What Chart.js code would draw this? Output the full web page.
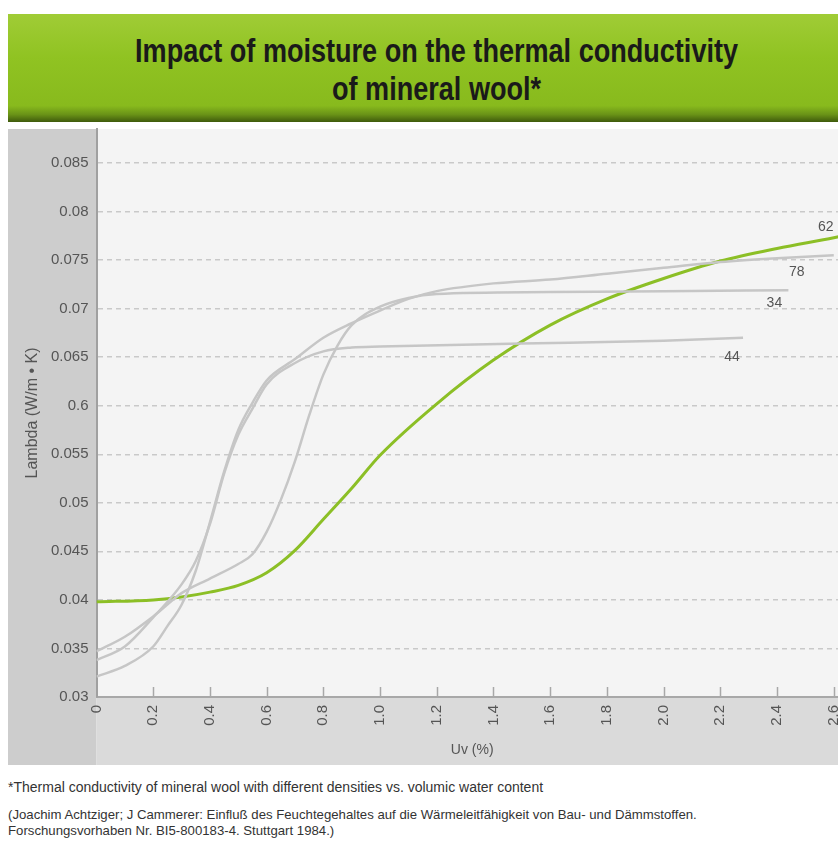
<!DOCTYPE html>
<html>
<head>
<meta charset="utf-8">
<script src="https://cdn.jsdelivr.net/npm/chart.js@4"></script>
<style>
html, body { margin:0; padding:0; background:#fff; width:838px; height:850px; overflow:hidden; }
#banner {
  position:absolute; left:8px; top:14px; width:840px; height:108px;
  background:linear-gradient(to bottom, #a0cc36 0%, #90c322 40%, #88ba1d 85%, #6a9317 93%, #3f5a0c 100%);
  font-family:"Liberation Sans",Arial,sans-serif; font-weight:bold; font-size:33px; line-height:38px; color:#1a1a1a;
}
#banner div { position:absolute; left:0; width:860px; top:18px; text-align:center; transform:scaleX(0.82); transform-origin:422px 0; }
#wrap { position:absolute; left:8px; top:112px; width:852px; height:653px; }
#notes {
  position:absolute; left:8px; top:779px; font-family:"Liberation Sans",Arial,sans-serif;
  color:#333; font-size:14px;
}
#notes p { margin:0; }
</style>
</head>
<body>
<div id="banner"><div>Impact of moisture on the thermal conductivity<br>of mineral wool*</div></div>
<div id="wrap"><canvas id="chart" width="852" height="653"></canvas></div>
<div id="notes">
<p style="margin-bottom:12px">*Thermal conductivity of mineral wool with different densities vs. volumic water content</p>
<p style="font-size:13.2px;line-height:16px">(Joachim Achtziger; J Cammerer: Einfluß des Feuchtegehaltes auf die Wärmeleitfähigkeit von Bau- und Dämmstoffen.<br>Forschungsvorhaben Nr. BI5-800183-4. Stuttgart 1984.)</p>
</div>
<script>
// tick values + labels (0.6 typo is in the original)
const yTickValues = [0.03, 0.035, 0.04, 0.045, 0.05, 0.055, 0.06, 0.065, 0.07, 0.075, 0.08, 0.085];
const yTickLabels = ['0.03', '0.035', '0.04', '0.045', '0.05', '0.055', '0.6', '0.065', '0.07', '0.075', '0.08', '0.085'];
const xTickValues = [0, 0.2, 0.4, 0.6, 0.8, 1.0, 1.2, 1.4, 1.6, 1.8, 2.0, 2.2, 2.4, 2.6];
const xTickLabels = ['0', '0.2', '0.4', '0.6', '0.8', '1.0', '1.2', '1.4', '1.6', '1.8', '2.0', '2.2', '2.4', '2.6'];

// density 62 (green)
const uv62 = [0, 0.2, 0.3, 0.4, 0.5, 0.6, 0.7, 0.8, 0.9, 1.0, 1.2, 1.4, 1.6, 1.8, 2.0, 2.2, 2.4, 2.6, 2.65];
const lambda62 = [0.0398, 0.0400, 0.0403, 0.0408, 0.0415, 0.0428, 0.0451, 0.0483, 0.0515, 0.0549, 0.0602, 0.0647, 0.0683, 0.0710, 0.0731, 0.0749, 0.0762, 0.0773, 0.0776];

// density 78
const uv78 = [0, 0.1, 0.2, 0.25, 0.3, 0.35, 0.4, 0.45, 0.5, 0.55, 0.6, 0.7, 0.8, 0.9, 1.0, 1.1, 1.2, 1.4, 1.6, 1.8, 2.0, 2.2, 2.4, 2.6];
const lambda78 = [0.0321, 0.0332, 0.0352, 0.0373, 0.0395, 0.0430, 0.0480, 0.0532, 0.0575, 0.0603, 0.0626, 0.0648, 0.0670, 0.0685, 0.0698, 0.0710, 0.0718, 0.0726, 0.0730, 0.0736, 0.0742, 0.0748, 0.0752, 0.0755];

// density 34
const uv34 = [0, 0.1, 0.2, 0.3, 0.4, 0.5, 0.55, 0.6, 0.65, 0.7, 0.75, 0.8, 0.85, 0.9, 1.0, 1.1, 1.2, 1.6, 2.0, 2.44];
const lambda34 = [0.0347, 0.0362, 0.0383, 0.0407, 0.0422, 0.0437, 0.0447, 0.0470, 0.0503, 0.0543, 0.0590, 0.0632, 0.0662, 0.0683, 0.0702, 0.0711, 0.0715, 0.0717, 0.0718, 0.0719];

// density 44
const uv44 = [0, 0.1, 0.2, 0.3, 0.35, 0.4, 0.45, 0.5, 0.55, 0.6, 0.7, 0.8, 0.9, 1.0, 1.5, 2.0, 2.28];
const lambda44 = [0.0338, 0.0352, 0.0382, 0.0416, 0.0440, 0.0478, 0.0530, 0.0570, 0.0597, 0.0622, 0.0644, 0.0656, 0.0660, 0.0661, 0.0664, 0.0667, 0.0670];

const pts = (xs, ys) => xs.map((x, i) => ({x: x, y: ys[i]}));

const font = '"Liberation Sans", Arial, sans-serif';

function series(name, xs, ys, color, width, labelAt, dx, dy) {
  return {
    label: name, data: pts(xs, ys), borderColor: color, borderWidth: width,
    pointRadius: 0, cubicInterpolationMode: 'monotone', fill: false,
    labelAt: labelAt, dx: dx, dy: dy
  };
}

// gray panels start at the chart area top, canvas above it stays transparent
const panels = {
  id: 'panels',
  beforeDraw(chart) {
    const {ctx, chartArea: a, width, height} = chart;
    ctx.save();
    ctx.fillStyle = '#cdcdcd';
    ctx.fillRect(0, a.top, a.left, height - a.top);
    ctx.fillStyle = '#dadada';
    ctx.fillRect(a.left, a.bottom, width - a.left, height - a.bottom);
    ctx.fillStyle = '#f4f4f4';
    ctx.fillRect(a.left, a.top, a.right - a.left, a.bottom - a.top);
    ctx.restore();
  },
  afterDraw(chart) {
    const {ctx, chartArea: a} = chart;
    const xs = chart.scales.x;
    ctx.save();
    // little inner tick marks on x axis
    ctx.strokeStyle = '#a8a8a8';
    ctx.lineWidth = 1.5;
    xTickValues.forEach(v => {
      if (v === 0) return;
      const px = Math.round(xs.getPixelForValue(v)) + 0.5;
      ctx.beginPath();
      ctx.moveTo(px, a.bottom);
      ctx.lineTo(px, a.bottom - 10);
      ctx.stroke();
    });
    // density labels next to the lines
    ctx.fillStyle = '#555';
    ctx.font = '14px ' + font;
    ctx.textAlign = 'center';
    ctx.textBaseline = 'middle';
    chart.data.datasets.forEach(ds => {
      const p = ds.data.find(d => d.x === ds.labelAt);
      const px = xs.getPixelForValue(p.x);
      const py = chart.scales.y.getPixelForValue(p.y);
      ctx.fillText(ds.label, px + ds.dx, py + ds.dy);
    });
    ctx.restore();
  }
};

new Chart(document.getElementById('chart'), {
  type: 'line',
  data: {
    datasets: [
      series('78', uv78, lambda78, '#c6c6c6', 2.5, 2.6, -37, 17),
      series('34', uv34, lambda34, '#c6c6c6', 2.5, 2.44, -14, 13),
      series('44', uv44, lambda44, '#c6c6c6', 2.5, 2.28, -11, 19),
      series('62', uv62, lambda62, '#8cbf26', 3, 2.6, -8, -11)
    ]
  },
  options: {
    responsive: false,
    animation: false,
    devicePixelRatio: 1,
    layout: { padding: { top: 0, right: 12, bottom: 0, left: 0 } },
    plugins: { legend: { display: false }, tooltip: { enabled: false } },
    scales: {
      x: {
        type: 'linear', min: 0, max: 2.65,
        afterBuildTicks: s => { s.ticks = xTickValues.map(v => ({value: v})); },
        afterFit: s => { s.height = 68; },
        grid: { color: 'transparent', drawTicks: false },
        border: { color: '#a8a8a8', width: 2 },
        ticks: {
          minRotation: 90, maxRotation: 90, padding: 8, color: '#555',
          font: { family: font, size: 15 },
          callback: (v) => xTickLabels[xTickValues.indexOf(v)]
        },
        title: { display: true, text: 'Uv (%)', color: '#555', font: { family: font, size: 14 }, padding: { top: 0, bottom: 6 } }
      },
      y: {
        type: 'linear', min: 0.03, max: 0.0885,
        afterBuildTicks: s => { s.ticks = yTickValues.map(v => ({value: v})); },
        afterFit: s => { s.width = 88.5; },
        grid: {
          drawTicks: false, lineWidth: 1.5,
          color: c => c.tick && c.tick.value === 0.03 ? 'transparent' : '#c9c9c9'
        },
        border: { color: '#a0a0a0', width: 2, dash: [5, 4] },
        ticks: {
          padding: 8, color: '#555', font: { family: font, size: 15 },
          callback: (v) => yTickLabels[yTickValues.indexOf(v)]
        },
        title: { display: true, text: 'Lambda (W/m • K)', color: '#555', font: { family: font, size: 16 }, padding: { top: 15, bottom: 0 } }
      }
    }
  },
  plugins: [panels]
});
</script>
</body>
</html>
